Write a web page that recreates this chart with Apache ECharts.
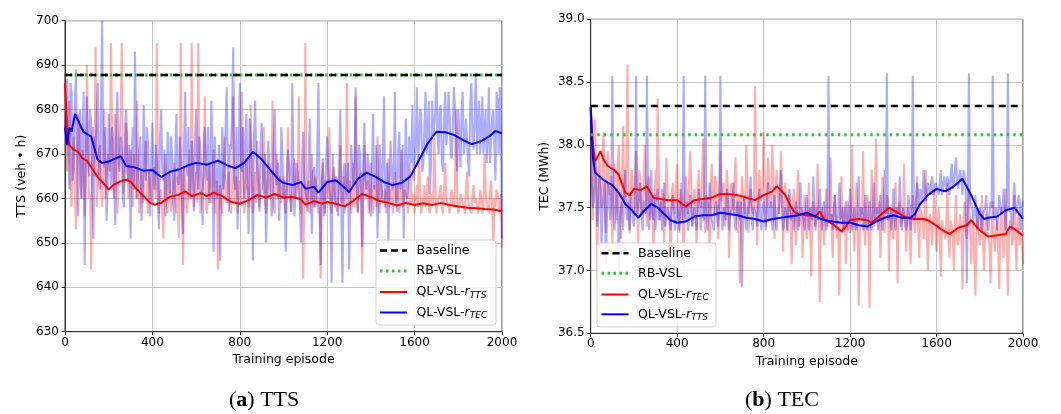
<!DOCTYPE html>
<html><head><meta charset="utf-8">
<script src="https://cdn.jsdelivr.net/npm/echarts@6/dist/echarts.min.js"></script>
<style>html,body{margin:0;padding:0;background:#fff}#c{width:1061px;height:414px}</style>
</head><body><div id="c"></div>
<script>
// ---------------- data ----------------
const RAW_STEP = 10; // episodes between samples of the "main" raw arrays (0,10,...,2000)
const MID_OFFSET = 5; // "mid" raw arrays hold episodes 5,15,...,1995
const xTicks = [0, 400, 800, 1200, 1600, 2000];
const ttsTicks = [630, 640, 650, 660, 670, 680, 690, 700];
const tecTicks = [36.5, 37.0, 37.5, 38.0, 38.5, 39.0];

const ttsBaseline = 687.8;
const ttsRB = 687.8;
const tecBaseline = 38.31;
const tecRB = 38.08;

// TTS, raw episodes, QL-VSL-rTTS (pink)
const ttsRawRTTS = [
688,666,682,658,674,653,679,663,671,656,
690,660,644,676,694,662,672,658,680,665,
670,695,662,679,656.6,674,695,663,677,660,
671,658,668,682,656.6,666,661,673,656.6,664,
659,667,695,656.6,662,651,670,656.6,663,659,
668,656.6,651,695,645,664,656.6,671,695,658,
666,695,656.6,662,683,656.6,668,659,671,656.6,
644,663,656.6,674,659,666,656.6,683,661,656.6,
664,684,656.6,669,660,681,656.6,666,673,658,
662,676,656.6,668,660,682,656.6,670,662,659,
665,656.6,676,661,656.6,669,660,683,656.6,642,
695,660,656.6,670,658,663,656.6,642,668,656.6,
662,676,656.6,667,659,656.6,672,660,656.6,686,
661,656.6,668,683,656.6,665,643,672,660,656.6,
668,656.6,661,674,656.6,664,659,656.6,669,660,
656.6,666,661,656.6,671,658,662,656.6,668,660,
656.6,663,670,656.6,660,658,665,656.6,661,674,
656.6,660,663,656.6,668,659,656.6,662,658,680,
656.6,661,659,656.6,666,658,656.6,663,660,656.6,
662,656.6,670,659,656.6,664,648,658,661,656.6,
649];
const ttsRawRTTSMid = [
672,676,664,670,662,668,676,660,667,664,
670,661,675,665,658,671,663,667,660,669,
666,678,660,672,664,679,661,668,674,663,
664,670,660,667,663,659,669,661,666,660,
664,660,668,661,657,665,660,666,657,663,
660,665,658,663,667,659,664,660,666,661,
659,664,661,666,658,663,660,665,659,664,
661,658,666,660,664,658,662,659,665,660,
659,665,660,663,658,664,661,659,666,661,
664,659,663,660,666,658,663,660,665,661,
659,664,660,657,665,660,663,659,664,660,
658,664,661,659,665,660,658,663,660,664,
660,658,664,661,657,663,659,665,660,662,
664,660,658,663,661,666,659,662,664,660,
661,663,658,660,664,659,662,660,658,663,
661,659,663,660,658,662,660,664,659,661,
660,658,662,659,663,660,658,661,659,662,
659,661,658,662,660,658,661,659,663,660,
658,661,659,662,660,658,661,659,660,658,
660,658,662,659,661,658,660,662,659,661];
// TTS, raw episodes, QL-VSL-rTEC (light blue)
const ttsRawRTEC = [
676,687,662,684,668,689,656,680,672,645,
683,665,677,651,670,686,662,700,667,655,
679,663,673,654,684,666,671,658,680,664,
651,676,693,660,670,655,681,664,672,656,
677,662,669,653,680,664,656,675,661,670,
655,679,663,668,652,684,665,660,673,657,
680,662,670,654,676,664,659,682,648,668,
660,646,676,665,685,657,671,694,662,653,
686,666,660,679,652,673,646,682,667,657,
677,661,650,673,665,658,680,663,655,676,
660,648,671,665,686,656,668,661,650,675,
664,657,678,652,667,660,686,645,669,658,
674,662,641,670,665,656,680,641,668,660,
644,672,663,685,657,670,649,677,662,667,
656,679,664,651,672,660,683,665,650,673,
662,684,657,675,665,651,678,663,670,681,
664,685,672,679,668,684,674,661,682,676,
688,670,681,666,684,675,679,669,685,672,
680,667,684,673,678,665,686,671,688,676,
670,683,675,668,685,673,680,664,682,685,
651];
const ttsRawRTECMid = [
682,670,686,664,680,672,676,660,684,668,
672,680,662,674,678,666,681,670,676,662,
670,676,662,678,668,674,660,676,666,672,
668,662,676,666,674,660,670,676,664,670,
664,672,660,674,667,671,662,668,674,660,
670,664,674,660,672,668,676,662,668,672,
666,674,662,672,668,676,665,670,674,660,
672,666,662,676,668,672,680,664,676,670,
668,676,672,664,678,668,674,670,662,672,
666,670,660,668,656,672,664,668,662,670,
664,660,668,657,670,662,666,659,668,664,
660,668,662,666,658,672,660,664,656,668,
666,660,670,658,664,668,656,666,662,668,
660,666,670,662,672,660,668,664,670,658,
668,662,672,660,666,670,658,668,662,666,
668,660,670,662,672,666,660,674,668,664,
672,668,680,666,676,670,682,668,674,680,
674,680,668,678,672,684,670,676,680,666,
674,680,670,678,668,682,674,678,670,682,
676,670,680,674,668,678,672,684,670,676];
// TEC, raw episodes, QL-VSL-rTEC (pink)
const tecRawRTEC = [
38.3,37.4,38.2,36.93,37.9,37.5,38.1,37.3,37.95,37.6,
37.2,37.85,37.4,38.0,37.25,38.15,37.6,38.64,37.3,37.8,
37.45,37.95,37.2,37.7,37.5,38.0,37.35,37.75,37.55,37.1,
37.8,38.37,37.4,37.65,37.2,37.9,37.5,37.05,37.7,37.45,
37.85,37.3,37.6,37.0,37.75,37.45,37.95,37.35,37.65,37.2,
37.8,37.5,38.05,37.3,37.6,37.15,37.85,37.45,37.7,37.25,
37.95,37.55,37.35,37.8,37.1,37.7,37.45,37.9,37.3,36.9,
37.75,37.5,38.0,37.3,37.65,37.45,38.47,37.2,37.8,37.55,
38.1,37.35,37.9,37.6,38.0,37.25,37.8,37.45,37.95,37.15,
37.7,37.3,37.55,37.05,37.65,37.2,37.8,37.4,37.1,37.6,
37.25,37.7,36.95,37.55,37.35,37.85,36.75,37.5,37.2,37.65,
37.35,37.9,37.1,37.6,37.25,36.8,37.75,37.4,37.05,37.55,
37.3,38.0,37.15,37.7,36.72,37.5,37.95,37.2,37.6,36.7,
37.8,37.35,38.05,37.45,37.1,37.75,37.3,37.6,37.0,37.5,
37.25,37.7,36.9,37.55,37.35,37.85,37.15,37.45,37.05,37.6,
37.3,37.75,37.1,37.5,37.25,37.8,37.0,37.45,37.2,37.65,
37.15,37.5,36.95,37.4,37.25,37.7,37.1,37.35,37.0,37.6,
37.2,37.45,36.85,37.55,37.25,37.65,37.05,37.4,36.8,37.5,
37.2,37.6,37.0,37.45,37.25,36.9,37.55,37.15,37.4,36.85,
37.5,37.1,37.65,36.8,37.4,37.2,37.6,37.0,37.45,37.25,
37.05];
const tecRawRTECMid = [
37.9,38.05,37.6,37.8,37.7,37.95,37.5,37.85,37.65,37.75,
37.6,37.7,37.85,37.5,37.75,37.55,37.9,37.45,37.7,37.6,
37.7,37.5,37.8,37.45,37.65,37.55,37.7,37.4,37.6,37.5,
37.55,37.7,37.45,37.6,37.5,37.65,37.4,37.6,37.5,37.7,
37.5,37.65,37.4,37.55,37.6,37.45,37.7,37.5,37.55,37.65,
37.55,37.7,37.45,37.6,37.5,37.65,37.55,37.75,37.45,37.6,
37.55,37.7,37.5,37.65,37.45,37.6,37.7,37.5,37.6,37.55,
37.6,37.45,37.7,37.55,37.65,37.5,37.75,37.55,37.6,37.7,
37.65,37.55,37.7,37.5,37.75,37.6,37.65,37.55,37.7,37.5,
37.5,37.6,37.4,37.55,37.45,37.6,37.35,37.5,37.45,37.4,
37.45,37.35,37.5,37.4,37.55,37.3,37.45,37.4,37.5,37.35,
37.45,37.3,37.5,37.4,37.35,37.45,37.3,37.5,37.35,37.4,
37.45,37.35,37.5,37.4,37.3,37.45,37.35,37.5,37.4,37.45,
37.4,37.5,37.45,37.55,37.4,37.5,37.45,37.55,37.4,37.5,
37.45,37.4,37.5,37.35,37.45,37.4,37.5,37.35,37.45,37.4,
37.45,37.35,37.5,37.4,37.45,37.3,37.4,37.35,37.45,37.3,
37.35,37.25,37.4,37.3,37.35,37.25,37.4,37.3,37.35,37.25,
37.35,37.3,37.4,37.3,37.45,37.35,37.3,37.4,37.35,37.3,
37.3,37.25,37.35,37.3,37.2,37.35,37.25,37.3,37.2,37.35,
37.3,37.35,37.25,37.3,37.35,37.25,37.3,37.4,37.2,37.3];
// TEC, raw episodes, QL-VSL-rTTS (light blue)
const tecRawRTTS = [
38.3,37.5,37.9,37.35,37.75,37.2,37.6,37.05,37.7,37.4,
38.55,37.32,37.65,36.95,37.5,37.32,37.8,37.4,37.32,37.6,
37.35,38.55,37.45,37.7,37.32,37.55,38.55,37.32,37.8,37.4,
37.32,37.65,37.45,37.32,37.7,37.35,37.5,37.32,37.6,37.32,
37.55,37.32,37.7,38.55,37.4,37.32,37.6,37.35,37.5,37.32,
37.65,37.32,37.45,38.55,37.32,37.7,37.4,37.32,37.55,37.35,
38.55,37.32,37.5,37.65,37.32,37.45,37.7,37.32,37.55,37.4,
36.87,37.6,37.32,37.45,37.75,37.32,37.5,37.35,37.65,37.32,
37.55,37.32,37.7,37.4,37.32,37.6,37.32,37.45,37.8,37.32,
37.5,37.32,37.65,37.4,37.32,37.55,37.32,37.7,37.45,37.32,
37.6,37.32,37.5,37.75,37.32,37.4,37.65,37.32,37.55,37.32,
38.55,37.4,37.32,37.6,37.32,37.7,37.45,37.32,37.55,37.32,
37.65,37.32,37.5,37.32,37.75,37.4,37.32,37.6,37.32,37.55,
37.32,37.7,37.45,37.32,37.6,37.32,37.8,38.57,37.4,37.32,
37.65,37.32,37.5,37.75,37.32,37.45,37.32,37.6,37.32,38.55,
37.4,37.7,37.5,37.65,37.8,37.55,37.7,37.6,37.75,37.65,
37.7,37.6,37.8,37.65,37.7,37.75,37.6,37.85,37.7,37.9,
37.65,37.8,37.6,37.75,36.9,38.57,37.55,37.4,37.6,37.32,
37.5,37.32,37.45,37.6,37.32,37.55,38.55,37.4,37.32,37.6,
37.45,37.65,37.32,38.57,37.5,37.32,37.7,37.45,37.6,37.32,
37.55];
const tecRawRTTSMid = [
37.7,37.55,37.75,37.45,37.65,37.5,37.7,37.4,37.6,37.5,
37.55,37.45,37.6,37.4,37.55,37.65,37.45,37.55,37.6,37.4,
37.5,37.45,37.6,37.4,37.55,37.45,37.65,37.5,37.45,37.6,
37.5,37.4,37.55,37.45,37.35,37.5,37.4,37.55,37.45,37.4,
37.45,37.5,37.4,37.45,37.55,37.4,37.5,37.45,37.4,37.5,
37.45,37.55,37.4,37.5,37.45,37.55,37.4,37.5,37.45,37.55,
37.45,37.5,37.4,37.55,37.45,37.5,37.4,37.5,37.45,37.55,
37.45,37.4,37.5,37.45,37.4,37.5,37.45,37.55,37.4,37.5,
37.45,37.5,37.4,37.55,37.45,37.4,37.5,37.45,37.55,37.4,
37.45,37.55,37.4,37.5,37.45,37.55,37.4,37.5,37.45,37.5,
37.45,37.5,37.4,37.45,37.5,37.4,37.45,37.5,37.4,37.45,
37.4,37.45,37.5,37.4,37.45,37.4,37.5,37.4,37.45,37.4,
37.45,37.4,37.35,37.45,37.4,37.5,37.4,37.35,37.45,37.4,
37.45,37.4,37.5,37.45,37.4,37.5,37.45,37.4,37.5,37.45,
37.4,37.5,37.45,37.4,37.5,37.45,37.4,37.5,37.45,37.5,
37.55,37.6,37.65,37.55,37.7,37.6,37.65,37.7,37.6,37.7,
37.65,37.7,37.6,37.75,37.65,37.7,37.75,37.65,37.8,37.7,
37.75,37.7,37.8,37.65,37.6,37.55,37.5,37.45,37.4,37.45,
37.4,37.45,37.5,37.4,37.45,37.5,37.45,37.5,37.45,37.5,
37.5,37.45,37.55,37.5,37.45,37.55,37.5,37.45,37.55,37.5];

// smoothed curves [episode, value]
const ttsSmoothRTTS = [[0,686],[10,675],[20,672],[40,671],[60,670.5],[80,669],[100,668.5],[120,667],[150,664.8],[180,663.2],[200,662],[220,663],[250,663.8],[280,664.2],[300,663.8],[330,662],[360,660.5],[390,659],[410,658.6],[440,659],[480,660.4],[520,660.8],[550,661.6],[580,660.5],[620,661.2],[650,660.5],[680,661.3],[720,660.5],[760,659.2],[800,658.8],[840,659.6],[880,660.8],[920,660.2],[960,661],[1000,660.2],[1040,660.3],[1080,659.8],[1100,658.6],[1140,659.4],[1180,658.8],[1200,659.2],[1240,658.8],[1280,658.2],[1320,659.5],[1360,661],[1400,660.3],[1440,659.4],[1480,659],[1520,658.4],[1560,659],[1600,658.5],[1640,658.9],[1680,658.5],[1720,659],[1760,658.5],[1800,658.2],[1840,657.9],[1880,657.8],[1920,657.6],[1960,657.5],[2000,657.1]];
const ttsSmoothRTEC = [[0,676],[10,672],[20,676],[30,675],[46,679],[84,675],[120,673.9],[150,668.6],[170,668],[200,668.3],[255,669.5],[280,667.3],[320,667],[360,666.2],[400,666.4],[440,664.8],[480,666],[520,666.5],[560,667.4],[600,668],[650,667.6],[700,668.5],[740,667.5],[780,666.8],[820,668],[860,670.5],[900,668.8],[940,666.4],[980,664.1],[1000,663.5],[1040,663],[1080,663.7],[1100,662.2],[1140,662.6],[1160,661.3],[1200,663.7],[1240,664.1],[1280,662.4],[1300,661.4],[1340,664.4],[1380,665.8],[1420,664.9],[1460,663.7],[1500,663],[1540,663.5],[1580,664.9],[1620,668.6],[1660,672.4],[1700,675],[1740,674.9],[1780,674.3],[1820,673.2],[1860,672.2],[1900,672.8],[1940,673.9],[1970,675.2],[2000,674.6]];
const tecSmoothRTEC = [[0,38.3],[10,38.0],[20,37.87],[30,37.9],[45,37.95],[60,37.88],[80,37.83],[110,37.8],[130,37.76],[160,37.62],[180,37.6],[200,37.65],[230,37.64],[260,37.67],[290,37.58],[320,37.57],[360,37.56],[400,37.56],[440,37.51],[480,37.56],[520,37.57],[560,37.58],[600,37.61],[640,37.61],[680,37.6],[720,37.58],[760,37.56],[800,37.6],[840,37.63],[860,37.67],[880,37.64],[900,37.6],[920,37.53],[940,37.47],[960,37.45],[1000,37.44],[1040,37.43],[1060,37.47],[1080,37.41],[1120,37.37],[1160,37.31],[1180,37.35],[1200,37.4],[1240,37.41],[1280,37.4],[1300,37.38],[1340,37.44],[1380,37.5],[1420,37.46],[1460,37.42],[1500,37.41],[1540,37.41],[1560,37.4],[1580,37.38],[1620,37.33],[1660,37.29],[1700,37.34],[1740,37.36],[1760,37.4],[1780,37.36],[1800,37.32],[1840,37.27],[1880,37.28],[1920,37.29],[1940,37.35],[1960,37.33],[2000,37.28]];
const tecSmoothRTTS = [[0,38.3],[10,37.9],[20,37.78],[40,37.75],[60,37.72],[80,37.7],[100,37.68],[130,37.62],[160,37.53],[190,37.48],[220,37.42],[250,37.48],[280,37.53],[310,37.5],[340,37.45],[370,37.4],[400,37.38],[440,37.39],[480,37.43],[520,37.44],[560,37.44],[600,37.46],[640,37.45],[680,37.44],[720,37.42],[760,37.41],[800,37.39],[840,37.41],[880,37.42],[920,37.43],[960,37.44],[1000,37.46],[1040,37.43],[1080,37.4],[1120,37.39],[1160,37.38],[1200,37.38],[1240,37.36],[1280,37.35],[1320,37.39],[1360,37.42],[1400,37.44],[1440,37.42],[1480,37.42],[1500,37.45],[1520,37.52],[1560,37.6],[1600,37.65],[1640,37.63],[1680,37.67],[1720,37.73],[1760,37.6],[1800,37.45],[1820,37.41],[1840,37.42],[1880,37.43],[1920,37.48],[1960,37.5],[2000,37.41]];

const leftLegendNames = ['Baseline', 'RB-VSL', 'QL-VSL-{i|r}{s|TTS}', 'QL-VSL-{i|r}{s|TEC}'];
const rightLegendNames = ['Baseline', 'RB-VSL', 'QL-VSL-{i|r}{s|TEC}', 'QL-VSL-{i|r}{s|TTS}'];

// ---------------- chart ----------------
function rawPairs(main, mid) {
  const out = [];
  main.forEach((v, i) => {
    out.push([i * RAW_STEP, v]);
    if (i < mid.length) out.push([i * RAW_STEP + MID_OFFSET, mid[i]]);
  });
  return out;
}
const flat = v => [[xTicks[0], v], [xTicks[xTicks.length - 1], v]];

const RED = '#ff0000', BLUE = '#0000ff', GREEN = '#22cc22';
const axisFont = { fontFamily: 'DejaVu Sans', fontSize: 12, color: '#000' };

function xAxis(gi) {
  return {
    gridIndex: gi, type: 'value', min: xTicks[0], max: xTicks[xTicks.length - 1], interval: xTicks[1] - xTicks[0],
    name: 'Training episode', nameLocation: 'middle', nameGap: 20,
    nameTextStyle: Object.assign({}, axisFont, { fontSize: 12.5 }),
    axisLine: { show: true, onZero: false, lineStyle: { color: '#333', width: 1 } },
    axisTick: { show: true, length: 3.5, lineStyle: { color: '#333' } },
    axisLabel: Object.assign({ margin: 5, formatter: v => String(v) }, axisFont),
    splitLine: { show: true, lineStyle: { color: '#c6c6c6', width: 1 } }
  };
}
function yAxis(gi, ticks, name, gap, fmt) {
  return {
    gridIndex: gi, type: 'value', min: ticks[0], max: ticks[ticks.length - 1],
    interval: ticks[1] - ticks[0],
    name: name, nameLocation: 'middle', nameGap: gap, nameRotate: 90,
    nameTextStyle: Object.assign({}, axisFont, { fontSize: 12.5 }),
    axisLine: { show: true, lineStyle: { color: '#333', width: 1 } },
    axisTick: { show: true, length: 3.5, lineStyle: { color: '#333' } },
    axisLabel: Object.assign({ margin: 6, formatter: fmt }, axisFont),
    splitLine: { show: true, lineStyle: { color: '#c6c6c6', width: 1 } }
  };
}
function line(name, gi, data, color, width, opts) {
  return Object.assign({
    name: name, type: 'line', xAxisIndex: gi, yAxisIndex: gi, data: data,
    showSymbol: false, symbol: 'none', silent: true, animation: false, sampling: null,
    lineStyle: { color: color, width: width }, itemStyle: { color: color }
  }, opts || {});
}
const rawStyle = (c) => ({ lineStyle: { color: c, width: 2.1, opacity: 0.32 }, z: 1 });

// manual legend (to get exact dashed / dotted icons and subscripts)
const legendRich = {
  i: { fontFamily: 'DejaVu Sans', fontStyle: 'italic', fontSize: 12.5, fill: '#000' },
  s: { fontFamily: 'DejaVu Sans', fontStyle: 'italic', fontSize: 9, fill: '#000', padding: [7, 0, 0, 0] }
};
const legendStyles = {
  'Baseline': { stroke: '#000', lineWidth: 2.5, lineDash: [7, 4] },
  'RB-VSL': { stroke: GREEN, lineWidth: 3, lineDash: [2.5, 3.5] }
};
function legendGraphic(box, rows, iconX, textX, names, colorFor) {
  const els = [{
    type: 'rect', shape: { x: box[0], y: box[1], width: box[2], height: box[3], r: 3 },
    style: { fill: 'rgba(255,255,255,0.85)', stroke: '#d4d4d4', lineWidth: 1 }, z: 100
  }];
  names.forEach((n, k) => {
    const st = legendStyles[n] || { stroke: colorFor(n), lineWidth: 2 };
    els.push({ type: 'line', shape: { x1: iconX, y1: rows[k], x2: iconX + 27, y2: rows[k] }, style: Object.assign({}, st), z: 101 });
    els.push({ type: 'text', x: textX, y: rows[k], style: {
      text: n, fontFamily: 'DejaVu Sans', fontSize: 12.5, fill: '#000', verticalAlign: 'middle', rich: legendRich
    }, z: 101 });
  });
  return els;
}

const option = {
  animation: false,
  backgroundColor: '#fff',
  grid: [
    { left: 65, top: 20.7, width: 437, height: 311, show: true, borderColor: '#333', borderWidth: 1, containLabel: false },
    { left: 590.7, top: 19.3, width: 432.3, height: 314, show: true, borderColor: '#333', borderWidth: 1, containLabel: false }
  ],
  xAxis: [xAxis(0), xAxis(1)],
  yAxis: [
    yAxis(0, ttsTicks, 'TTS (veh • h)', 37, v => String(v)),
    yAxis(1, tecTicks, 'TEC (MWh)', 39, v => v.toFixed(1))
  ],
  series: [
    // left: TTS
    line('L raw rTTS', 0, rawPairs(ttsRawRTTS, ttsRawRTTSMid), RED, 2.1, rawStyle(RED)),
    line('L raw rTEC', 0, rawPairs(ttsRawRTEC, ttsRawRTECMid), BLUE, 2.1, rawStyle(BLUE)),
    line('L QL-VSL-rTTS', 0, ttsSmoothRTTS, RED, 2, { z: 3 }),
    line('L QL-VSL-rTEC', 0, ttsSmoothRTEC, BLUE, 2, { z: 3 }),
    line('L RB-VSL', 0, flat(ttsRB), GREEN, 3, { z: 4, lineStyle: { color: GREEN, width: 3, type: [2.5, 2.5] } }),
    line('L Baseline', 0, flat(ttsBaseline), '#000', 2.5, { z: 5, lineStyle: { color: '#000', width: 2.5, type: [7, 5] } }),
    // right: TEC
    line('R raw rTEC', 1, rawPairs(tecRawRTEC, tecRawRTECMid), RED, 2.1, rawStyle(RED)),
    line('R raw rTTS', 1, rawPairs(tecRawRTTS, tecRawRTTSMid), BLUE, 2.1, rawStyle(BLUE)),
    line('R QL-VSL-rTEC', 1, tecSmoothRTEC, RED, 2, { z: 3 }),
    line('R QL-VSL-rTTS', 1, tecSmoothRTTS, BLUE, 2, { z: 3 }),
    line('R RB-VSL', 1, flat(tecRB), GREEN, 3, { z: 4, lineStyle: { color: GREEN, width: 3, type: [2.5, 4] } }),
    line('R Baseline', 1, flat(tecBaseline), '#000', 2.5, { z: 5, lineStyle: { color: '#000', width: 2.5, type: [7, 5] } })
  ],
  graphic: [].concat(
    legendGraphic([376, 240, 120, 85], [250.5, 271, 292, 312.5], 380, 416.5, leftLegendNames,
      n => n.indexOf('TTS') >= 0 ? RED : BLUE),
    legendGraphic([597, 243, 119, 84], [253.3, 273.3, 294.5, 314.3], 601.5, 638, rightLegendNames,
      n => n.indexOf('TEC') >= 0 ? RED : BLUE),
    [
      { type: 'text', left: 229, top: 389, style: { text: '{b|(}{bb|a}{b|) TTS}', rich: { b: { fontFamily: 'Liberation Serif', fontSize: 22, fill: '#000' }, bb: { fontFamily: 'Liberation Serif', fontSize: 22, fontWeight: 'bold', fill: '#000' } } } },
      { type: 'text', left: 745, top: 389, style: { text: '{b|(}{bb|b}{b|) TEC}', rich: { b: { fontFamily: 'Liberation Serif', fontSize: 22, fill: '#000' }, bb: { fontFamily: 'Liberation Serif', fontSize: 22, fontWeight: 'bold', fill: '#000' } } } }
    ]
  )
};
const chart = echarts.init(document.getElementById('c'), null, { renderer: 'canvas' });
chart.setOption(option);
</script>
</body></html>
